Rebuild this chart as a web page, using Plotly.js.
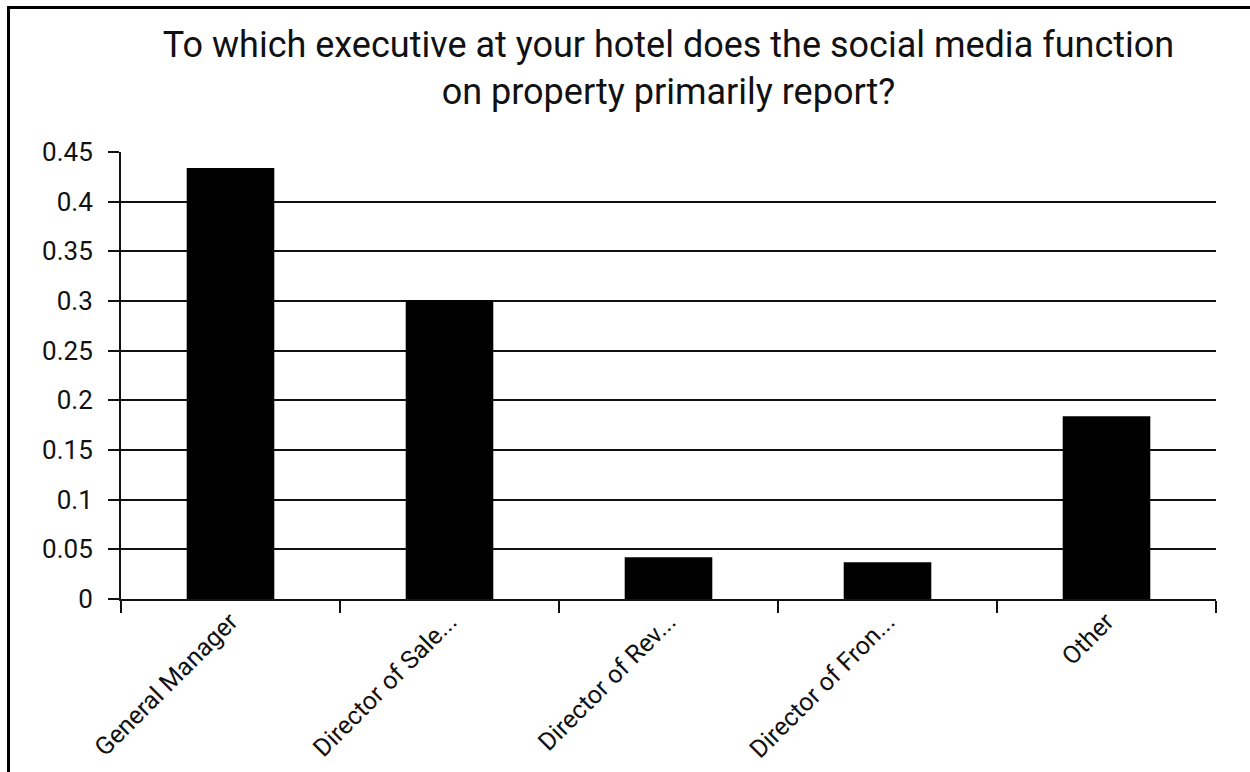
<!DOCTYPE html>
<html>
<head>
<meta charset="utf-8">
<script src="https://cdn.plot.ly/plotly-3.0.1.min.js"></script>
<style>
html, body { margin: 0; padding: 0; background: #fff; overflow: hidden; }
#wrap { position: relative; width: 1250px; height: 772px; overflow: hidden; }
#chart { width: 1250px; height: 772px; }
#frame { position: absolute; left: 7px; top: 6px; width: 1300px; height: 900px; z-index: 10;
         border-left: 3px solid #000; border-top: 3px solid #000; pointer-events: none; }
</style>
</head>
<body>
<div id="wrap">
<div id="chart"></div>
<div id="frame"></div>
</div>
<script>
const categories = ["General Manager", "Director of Sale...", "Director of Rev...", "Director of Fron...", "Other"];
const values = [0.434, 0.301, 0.042, 0.037, 0.184];
const yTickVals = [0, 0.05, 0.1, 0.15, 0.2, 0.25, 0.3, 0.35, 0.4, 0.45];
const yTickText = ["0", "0.05", "0.1", "0.15", "0.2", "0.25", "0.3", "0.35", "0.4", "0.45"];
const chartTitle = "To which executive at your hotel does the social media function<br>on property primarily report?";

const trace = {
  type: "bar",
  x: categories,
  y: values,
  marker: { color: "#000000", line: { color: "#000000", width: 0 } },
  hoverinfo: "x+y"
};

const layout = {
  width: 1250,
  height: 772,
  margin: { l: 121, r: 34, t: 152, b: 173, pad: 0 },
  paper_bgcolor: "#ffffff",
  plot_bgcolor: "#ffffff",
  font: { family: "Roboto, Arial, sans-serif", color: "#111111", size: 26 },
  showlegend: false,
  bargap: 0.6,
  title: {
    text: chartTitle,
    font: { family: "Roboto, Arial, sans-serif", size: 36, color: "#111111" },
    x: 0.5, xref: "paper", xanchor: "center",
    y: 0.926, yref: "container", yanchor: "top"
  },
  xaxis: {
    type: "category",
    showline: true, linecolor: "#111", linewidth: 2,
    ticks: "outside", tickson: "boundaries", ticklen: 12, tickwidth: 2, tickcolor: "#111",
    tickangle: -45,
    ticklabelstandoff: -4,
    tickfont: { size: 25, color: "#111111" },
    showgrid: false, zeroline: false
  },
  yaxis: {
    range: [0, 0.45],
    tickvals: yTickVals,
    ticktext: yTickText,
    showline: true, linecolor: "#111", linewidth: 2,
    ticks: "outside", ticklen: 11, tickwidth: 2, tickcolor: "#111",
    ticklabelstandoff: 10,
    showgrid: true, gridcolor: "#111", gridwidth: 2,
    zeroline: false,
    tickfont: { size: 26, color: "#111111" }
  }
};

Plotly.newPlot("chart", [trace], layout, { staticPlot: true, displayModeBar: false });
</script>
</body>
</html>
